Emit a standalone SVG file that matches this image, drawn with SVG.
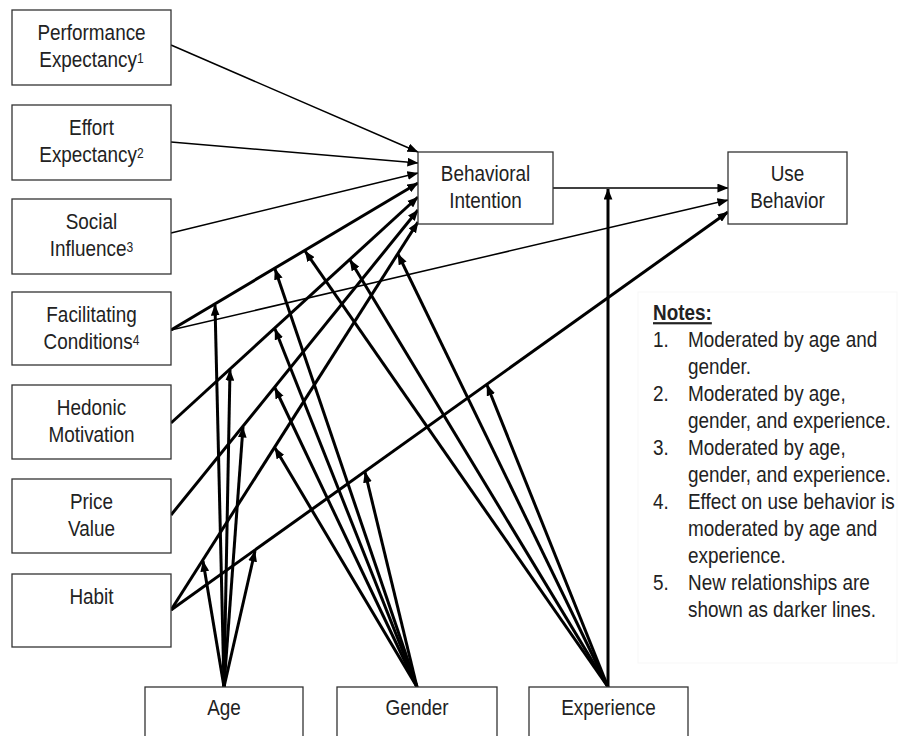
<svg xmlns="http://www.w3.org/2000/svg" width="898" height="736" viewBox="0 0 898 736">
<defs>
<marker id="ah" viewBox="0 0 10 8" refX="9.6" refY="4" markerWidth="11" markerHeight="9" markerUnits="userSpaceOnUse" orient="auto">
<path d="M0,0 L10,4 L0,8 z" fill="#000"/>
</marker>
<style>
.box{fill:#fff;stroke:#333;stroke-width:1.3}
.t{font-family:"Liberation Sans",Arial,sans-serif;font-size:22px;fill:#222;text-anchor:middle}
.n{font-family:"Liberation Sans",Arial,sans-serif;font-size:22px;fill:#222;text-anchor:start}
.sup{font-size:14px}
.thin{stroke:#000;stroke-width:1.5;fill:none;marker-end:url(#ah)}
.thick{stroke:#000;stroke-width:3;fill:none;marker-end:url(#ah)}
</style>
</defs>
<rect x="0" y="0" width="898" height="736" fill="#fff"/>
<rect x="638" y="292" width="259" height="371" fill="none" stroke="#f7f7f7" stroke-width="1"/>

<g id="connectors">
<path class="thin" d="M171,45 L418,152"/>
<path class="thin" d="M171,142 L418,163"/>
<path class="thin" d="M171,233 L418,173"/>
<path class="thin" d="M171,330 L728,200"/>
<path class="thin" d="M553,188 L728,188"/>
<path class="thick" d="M171,330 L418,183"/>
<path class="thick" d="M171,423 L418,197"/>
<path class="thick" d="M171,515 L418,210"/>
<path class="thick" d="M171,610 L418,222"/>
<path class="thick" d="M171,610 L728,212"/>
<path class="thick" d="M224,687 L215,305"/>
<path class="thick" d="M224,687 L230,370"/>
<path class="thick" d="M224,687 L243,427"/>
<path class="thick" d="M224,687 L203,561"/>
<path class="thick" d="M224,687 L255,551"/>
<path class="thick" d="M417,687 L275,269"/>
<path class="thick" d="M417,687 L275,329"/>
<path class="thick" d="M417,687 L275,388"/>
<path class="thick" d="M417,687 L275,448"/>
<path class="thick" d="M417,687 L365,472"/>
<path class="thick" d="M608,687 L305,251"/>
<path class="thick" d="M608,687 L350,260"/>
<path class="thick" d="M608,687 L398,254"/>
<path class="thick" d="M608,687 L487,385"/>
<path class="thick" d="M608,687 L608,189"/>
</g>

<g id="pe"><rect class="box" x="12" y="10" width="159" height="75"/>
<text class="t" transform="translate(91.5 40) scale(0.86 1)"><tspan x="0" y="0">Performance</tspan><tspan x="0" y="27">Expectancy<tspan class="sup" dy="-4">1</tspan></tspan></text></g>

<g id="ee"><rect class="box" x="12" y="105" width="159" height="75"/>
<text class="t" transform="translate(91.5 135) scale(0.86 1)"><tspan x="0" y="0">Effort</tspan><tspan x="0" y="27">Expectancy<tspan class="sup" dy="-4">2</tspan></tspan></text></g>

<g id="si"><rect class="box" x="12" y="199" width="159" height="75"/>
<text class="t" transform="translate(91.5 229) scale(0.86 1)"><tspan x="0" y="0">Social</tspan><tspan x="0" y="27">Influence<tspan class="sup" dy="-4">3</tspan></tspan></text></g>

<g id="fc"><rect class="box" x="12" y="292" width="159" height="73"/>
<text class="t" transform="translate(91.5 322) scale(0.86 1)"><tspan x="0" y="0">Facilitating</tspan><tspan x="0" y="27">Conditions<tspan class="sup" dy="-4">4</tspan></tspan></text></g>

<g id="hm"><rect class="box" x="12" y="385" width="159" height="74"/>
<text class="t" transform="translate(91.5 415) scale(0.86 1)"><tspan x="0" y="0">Hedonic</tspan><tspan x="0" y="27">Motivation</tspan></text></g>

<g id="pv"><rect class="box" x="12" y="479" width="159" height="74"/>
<text class="t" transform="translate(91.5 509) scale(0.86 1)"><tspan x="0" y="0">Price</tspan><tspan x="0" y="27">Value</tspan></text></g>

<g id="habit"><rect class="box" x="12" y="574" width="159" height="73"/>
<text class="t" transform="translate(91.5 604) scale(0.86 1)">Habit</text></g>

<g id="bi"><rect class="box" x="418" y="152" width="135" height="72"/>
<text class="t" transform="translate(485.5 181) scale(0.86 1)"><tspan x="0" y="0">Behavioral</tspan><tspan x="0" y="27">Intention</tspan></text></g>

<g id="ub"><rect class="box" x="728" y="152" width="119" height="72"/>
<text class="t" transform="translate(787.5 181) scale(0.86 1)"><tspan x="0" y="0">Use</tspan><tspan x="0" y="27">Behavior</tspan></text></g>

<g id="age"><rect class="box" x="145" y="687" width="158" height="60"/>
<text class="t" transform="translate(224 715) scale(0.86 1)">Age</text></g>

<g id="gender"><rect class="box" x="337" y="687" width="160" height="60"/>
<text class="t" transform="translate(417 715) scale(0.86 1)">Gender</text></g>

<g id="experience"><rect class="box" x="529" y="687" width="159" height="60"/>
<text class="t" transform="translate(608.5 715) scale(0.86 1)">Experience</text></g>

<g id="notes">
<text class="n" transform="translate(653 320) scale(0.86 1)">
<tspan x="0" y="0" font-weight="bold" text-decoration="underline">Notes:</tspan>
<tspan x="0" y="27">1.</tspan><tspan x="40.7" y="27">Moderated by age and</tspan>
<tspan x="40.7" y="54">gender.</tspan>
<tspan x="0" y="81">2.</tspan><tspan x="40.7" y="81">Moderated by age,</tspan>
<tspan x="40.7" y="108">gender, and experience.</tspan>
<tspan x="0" y="135">3.</tspan><tspan x="40.7" y="135">Moderated by age,</tspan>
<tspan x="40.7" y="162">gender, and experience.</tspan>
<tspan x="0" y="189">4.</tspan><tspan x="40.7" y="189">Effect on use behavior is</tspan>
<tspan x="40.7" y="216">moderated by age and</tspan>
<tspan x="40.7" y="243">experience.</tspan>
<tspan x="0" y="270">5.</tspan><tspan x="40.7" y="270">New relationships are</tspan>
<tspan x="40.7" y="297">shown as darker lines.</tspan>
</text>
</g>
</svg>
